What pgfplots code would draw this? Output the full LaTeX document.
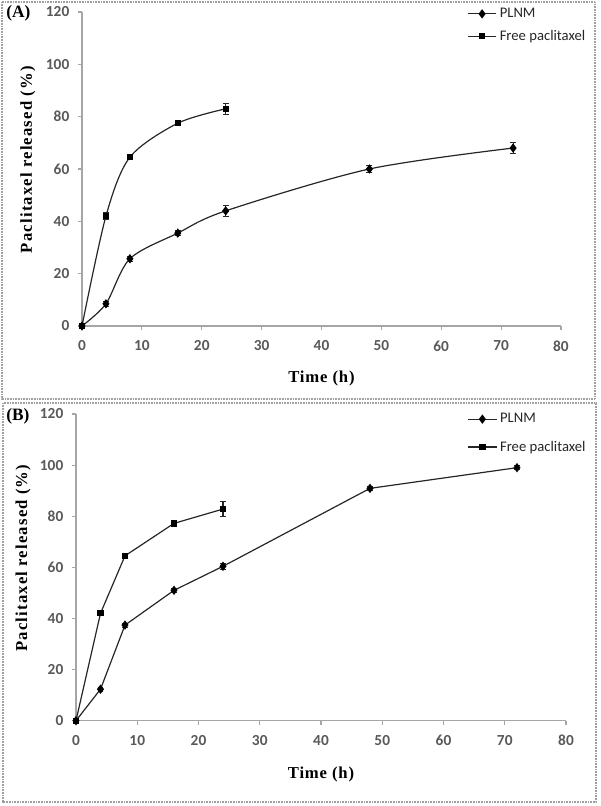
\documentclass[border=0pt]{standalone}
\usepackage{fontspec}
\setmainfont{Liberation Serif}
\newfontfamily\carlito{Carlito}
\newfontfamily\ylabfont[LetterSpace=7]{Liberation Serif}
\newfontfamily\xlabfont[LetterSpace=5]{Liberation Serif}
\usepackage{pgfplots}
\pgfplotsset{compat=1.18}
\definecolor{axgray}{HTML}{A6A6A6}
\definecolor{tickgray}{HTML}{595959}
\definecolor{linec}{HTML}{262626}
\definecolor{framegray}{HTML}{A0A0A0}

\pgfplotsset{
 panel/.style={
  scale only axis, axis lines*=left, axis line style={-, axgray, line width=0.8pt},
  xmin=0,xmax=80,ymin=0,ymax=120,
  xtick={0,10,...,80}, ytick={0,20,...,120},
  tick align=outside, tick style={axgray, line width=0.8pt}, major tick length=3pt,
  tick label style={font=\carlito\bfseries\fontsize{11.5}{13}\selectfont, text=tickgray},
  /pgf/number format/assume math mode=true,
  xticklabel style={yshift=-4.5pt},
  yticklabel style={xshift=-3pt},
  xlabel style={font=\xlabfont\bfseries\fontsize{12.5}{14}\selectfont},
  ylabel style={font=\ylabfont\bfseries\fontsize{12.5}{14}\selectfont},
  xlabel={Time (h)}, ylabel={Paclitaxel released (\%)},
  legend style={draw=none, fill=none, font=\carlito\fontsize{11}{12}\selectfont, text=linec, anchor=north west, cells={anchor=west}},
  legend image code/.code={\draw[mark repeat=2,mark phase=2,#1] plot coordinates {(0cm,0cm) (0.38cm,0cm) (0.76cm,0cm)};},
  clip=false,
 },
 ser/.style={color=linec, line width=0.9pt,
  error bars/y dir=both, error bars/y explicit,
  error bars/error mark options={rotate=90, mark size=2.2pt, line width=0.8pt, linec},
  error bars/error bar style={line width=0.8pt, linec}},
 plnm/.style={ser, mark=diamond*, mark size=2.8pt, mark options={fill=black, draw=black}},
 freep/.style={ser, mark=square*, mark size=1.9pt, mark options={fill=black, draw=black}},
}

\begin{document}
\begin{tikzpicture}
\useasboundingbox (0,0) rectangle (450pt,604.5pt);
% frames
\draw[framegray, line width=1pt, dash pattern=on 0.7pt off 0.5pt] (1.5pt,603pt) rectangle (446.25pt,305.25pt);
\draw[framegray, line width=1pt, dash pattern=on 0.7pt off 0.5pt] (2.25pt,302.25pt) rectangle (447pt,3pt);

% Panel A
\begin{axis}[panel, at={(61.5pt,360pt)}, anchor=south west, width=359.25pt, height=235.5pt,
  xlabel style={at={(axis description cs:0.5,-0.166)}, anchor=center},
  ylabel style={at={(axis description cs:-0.113,0.53)}, anchor=center},
  legend style={at={(axis description cs:0.795,1.03)}, row sep=4pt}]
\addplot[plnm, smooth, tension=0.5] table[x=t, y=v, y error=e] {
t v e
0 0 0.5
4 8.5 1
8 25.7 1
16 35.5 0.8
24 44 2
48 60 1.5
72 68 2
};
\addlegendentry{PLNM}
\addplot[freep, smooth, tension=0.5] table[x=t, y=v, y error=e] {
t v e
0 0 0
4 42 1.2
8 64.5 1
16 77.5 0.8
24 83 2
};
\addlegendentry{Free paclitaxel}
\end{axis}

% Panel B
\begin{axis}[panel, at={(57pt,64pt)}, anchor=south west, width=367.5pt, height=230pt,
  xlabel style={at={(axis description cs:0.5,-0.177)}, anchor=center},
  ylabel style={at={(axis description cs:-0.108,0.53)}, anchor=center},
  legend style={at={(axis description cs:0.79,1.02)}, row sep=8pt}]
\addplot[plnm] table[x=t, y=v, y error=e] {
t v e
0 0 0.5
4 12.3 0.8
8 37.4 0.8
16 51 0.8
24 60.4 1.2
48 90.9 0.8
72 99 0.8
};
\addlegendentry{PLNM}
\addplot[freep] table[x=t, y=v, y error=e] {
t v e
0 0 0
4 42 0.8
8 64.5 1
16 77.2 0.8
24 82.8 2.8
};
\addlegendentry{Free paclitaxel}
\end{axis}

\node[font=\bfseries\fontsize{13}{15}\selectfont, anchor=west, inner sep=0pt] at (4.5pt,594.5pt) {(A)};
\node[font=\bfseries\fontsize{13}{15}\selectfont, anchor=west, inner sep=0pt] at (4.5pt,292.5pt) {(B)};
\end{tikzpicture}
\end{document}
